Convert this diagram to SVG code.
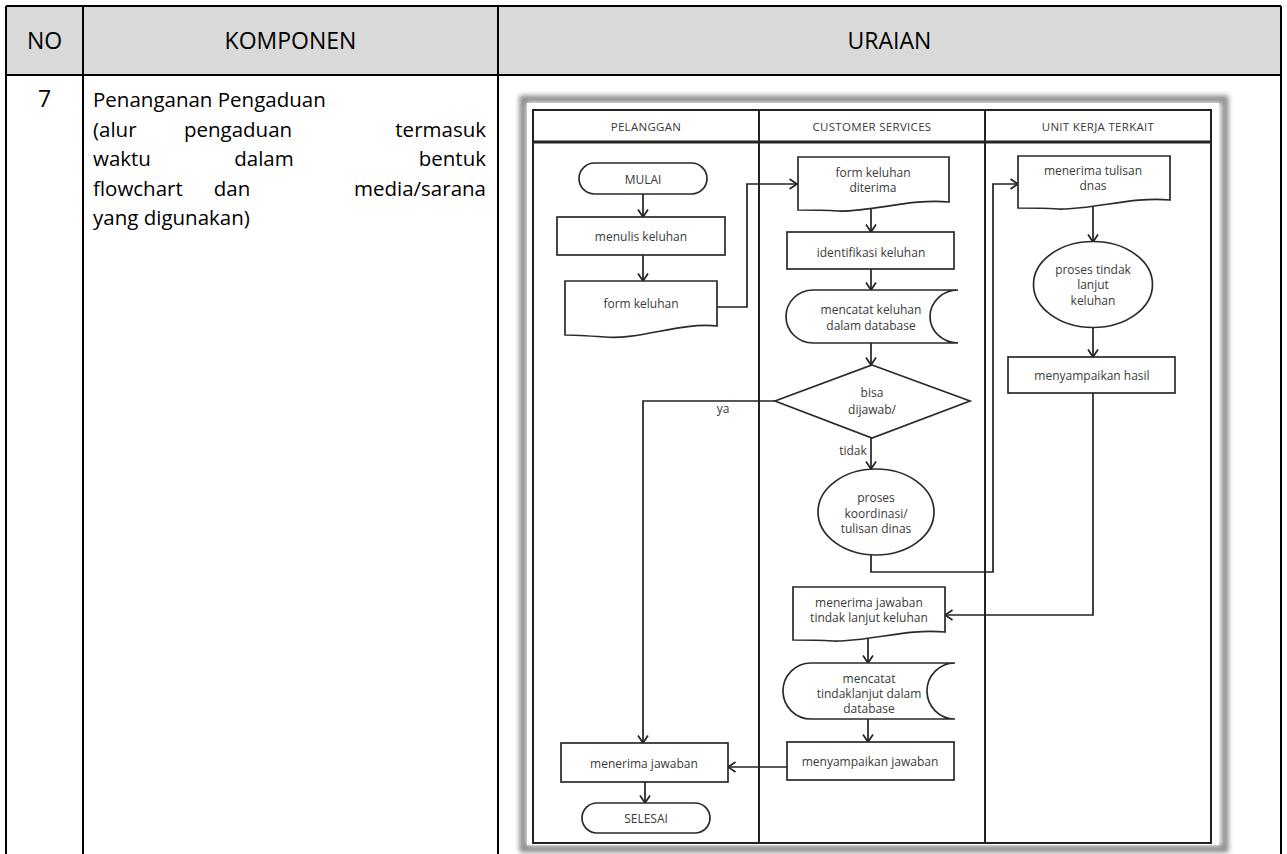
<svg xmlns="http://www.w3.org/2000/svg" width="1287" height="854" viewBox="0 0 1287 854">
<style>
.tbl{fill:none;stroke:#000;stroke-width:2}
.hd{font-family:"Open Sans","Liberation Sans",sans-serif;font-size:23px;fill:#000;text-anchor:middle}
.bt{font-family:"Open Sans","Liberation Sans",sans-serif;font-size:20.5px;fill:#000}
.sh{fill:#fff;stroke:#2a2a2a;stroke-width:1.7}
.ft{font-family:"Open Sans","Liberation Sans",sans-serif;font-size:12px;fill:#3a3a3a;text-anchor:middle}
.lh{font-family:"Open Sans","Liberation Sans",sans-serif;font-size:11.5px;fill:#3a3a3a;text-anchor:middle;letter-spacing:0.3px}
.cn{fill:none;stroke:#222;stroke-width:1.7}
</style>
<defs>
<marker id="ah" markerWidth="10" markerHeight="12" refX="8.5" refY="6" orient="auto" markerUnits="userSpaceOnUse">
<path d="M1,1 L8.5,6 L1,11" fill="none" stroke="#222" stroke-width="1.7"/>
</marker>
<filter id="blur" x="-5%" y="-5%" width="110%" height="110%"><feGaussianBlur stdDeviation="2.5"/></filter>
</defs>
<rect width="1287" height="854" fill="#fff"/>
<g id="table">
<rect x="6" y="6" width="1275" height="69" fill="#d9d9d9"/>
<path class="tbl" d="M6,6 H1281 M6,75 H1281 M6,6 V854 M83,6 V854 M498,6 V854 M1281,6 V854"/>
<text class="hd" x="44.5" y="49">NO</text>
<text class="hd" x="290.5" y="49">KOMPONEN</text>
<text class="hd" x="889.5" y="49">URAIAN</text>
<text class="hd" x="44.5" y="107">7</text>
<text class="bt" x="93" y="107">Penanganan Pengaduan</text>
<text class="bt" x="93" y="136.5">(alur</text>
<text class="bt" x="238" y="136.5" text-anchor="middle">pengaduan</text>
<text class="bt" x="486" y="136.5" text-anchor="end">termasuk</text>
<text class="bt" x="93" y="166">waktu</text>
<text class="bt" x="264" y="166" text-anchor="middle">dalam</text>
<text class="bt" x="486" y="166" text-anchor="end">bentuk</text>
<text class="bt" x="93" y="195.5">flowchart</text>
<text class="bt" x="232" y="195.5" text-anchor="middle">dan</text>
<text class="bt" x="486" y="195.5" text-anchor="end">media/sarana</text>
<text class="bt" x="93" y="225">yang digunakan)</text>
</g>
<g id="frame">
<rect x="523" y="99" width="702" height="750" fill="none" stroke="#8a8a8a" stroke-width="7" filter="url(#blur)"/>
<rect x="527" y="103" width="692" height="742" fill="#fff"/>
<rect x="533" y="110" width="678" height="733" fill="none" stroke="#222" stroke-width="2"/>
<path d="M533,142 H1211" stroke="#222" stroke-width="3" fill="none"/>
<path d="M759,110 V843 M985,110 V843" stroke="#222" stroke-width="2" fill="none"/>
<text class="lh" x="646" y="131">PELANGGAN</text>
<text class="lh" x="872" y="131">CUSTOMER SERVICES</text>
<text class="lh" x="1098" y="131">UNIT KERJA TERKAIT</text>
</g>
<g id="connectors">
<path class="cn" d="M643,194 V217" marker-end="url(#ah)"/>
<path class="cn" d="M643,255 V281" marker-end="url(#ah)"/>
<path class="cn" d="M717,307 H747 V184 H797" marker-end="url(#ah)"/>
<path class="cn" d="M871,206 V232" marker-end="url(#ah)"/>
<path class="cn" d="M871,269 V290" marker-end="url(#ah)"/>
<path class="cn" d="M871,343 V365" marker-end="url(#ah)"/>
<path class="cn" d="M871,438 V469" marker-end="url(#ah)"/>
<path class="cn" d="M775,401 H643 V743" marker-end="url(#ah)"/>
<path class="cn" d="M871,555 V572 H993 V184 H1018" marker-end="url(#ah)"/>
<path class="cn" d="M1093,205 V242" marker-end="url(#ah)"/>
<path class="cn" d="M1093,327 V357" marker-end="url(#ah)"/>
<path class="cn" d="M1093,393 V615 H945" marker-end="url(#ah)"/>
<path class="cn" d="M868,636 V663" marker-end="url(#ah)"/>
<path class="cn" d="M868,719 V742" marker-end="url(#ah)"/>
<path class="cn" d="M787,767 H728" marker-end="url(#ah)"/>
<path class="cn" d="M645,782 V803" marker-end="url(#ah)"/>
<text class="ft" x="723" y="412.5">ya</text>
<text class="ft" x="853" y="454.5">tidak</text>
</g>
<g id="mulai">
<rect class="sh" x="579" y="163" width="128" height="31" rx="15.5"/>
<text class="ft" x="643" y="183.5">MULAI</text>
</g>
<g id="menulis-keluhan">
<rect class="sh" x="557" y="217" width="168" height="38"/>
<text class="ft" x="641" y="241">menulis keluhan</text>
</g>
<g id="form-keluhan">
<path class="sh" d="M565,281 H717 V326 C680,322 640,340 605,337 C590,336 575,335 565,335 Z"/>
<text class="ft" x="641" y="308">form keluhan</text>
</g>
<g id="form-keluhan-diterima">
<path class="sh" d="M798,157 H949 V202 C912,198 872,212 838,211 C823,210 808,210 798,210 Z"/>
<text class="ft" x="873" y="177">form keluhan</text>
<text class="ft" x="873" y="192">diterima</text>
</g>
<g id="identifikasi-keluhan">
<rect class="sh" x="787" y="232" width="167" height="37"/>
<text class="ft" x="871" y="256.5">identifikasi keluhan</text>
</g>
<g id="mencatat-keluhan">
<path class="sh" d="M813,290 H958 A28,26.5 0 0 0 958,343 H813 A27,26.5 0 0 1 813,290 Z"/>
<text class="ft" x="871" y="314">mencatat keluhan</text>
<text class="ft" x="871" y="329.5">dalam database</text>
</g>
<g id="bisa-dijawab">
<path class="sh" d="M872,365 L970,401 L872,438 L775,401 Z"/>
<text class="ft" x="872" y="397">bisa</text>
<text class="ft" x="872" y="413.5">dijawab/</text>
</g>
<g id="proses-koordinasi">
<ellipse class="sh" cx="876" cy="512" rx="58" ry="43"/>
<text class="ft" x="876" y="501.5">proses</text>
<text class="ft" x="876" y="517.5">koordinasi/</text>
<text class="ft" x="876" y="533">tulisan dinas</text>
</g>
<g id="menerima-tulisan">
<path class="sh" d="M1018,156 H1170 V200 C1133,196 1093,210 1058,209 C1043,208 1028,208 1018,208 Z"/>
<text class="ft" x="1093" y="175">menerima tulisan</text>
<text class="ft" x="1093" y="190">dnas</text>
</g>
<g id="proses-tindak-lanjut">
<ellipse class="sh" cx="1093" cy="284.5" rx="59.5" ry="43"/>
<text class="ft" x="1093" y="273.5">proses tindak</text>
<text class="ft" x="1093" y="289">lanjut</text>
<text class="ft" x="1093" y="304.5">keluhan</text>
</g>
<g id="menyampaikan-hasil">
<rect class="sh" x="1008" y="357" width="167" height="36"/>
<text class="ft" x="1092" y="379.5">menyampaikan hasil</text>
</g>
<g id="menerima-jawaban-tl">
<path class="sh" d="M793,587 H945 V632 C908,628 868,642 833,641 C818,640 803,640 793,640 Z"/>
<text class="ft" x="869" y="606.5">menerima jawaban</text>
<text class="ft" x="869" y="622">tindak lanjut keluhan</text>
</g>
<g id="mencatat-tl">
<path class="sh" d="M811,663 H955 A28,28 0 0 0 955,719 H811 A28,28 0 0 1 811,663 Z"/>
<text class="ft" x="869" y="683">mencatat</text>
<text class="ft" x="869" y="698">tindaklanjut dalam</text>
<text class="ft" x="869" y="713">database</text>
</g>
<g id="menyampaikan-jawaban">
<rect class="sh" x="787" y="742" width="167" height="38"/>
<text class="ft" x="870" y="766">menyampaikan jawaban</text>
</g>
<g id="menerima-jawaban">
<rect class="sh" x="561" y="743" width="167" height="39"/>
<text class="ft" x="644" y="767.5">menerima  jawaban</text>
</g>
<g id="selesai">
<rect class="sh" x="582" y="803" width="128" height="30" rx="15"/>
<text class="ft" x="646" y="822.5">SELESAI</text>
</g>
</svg>
